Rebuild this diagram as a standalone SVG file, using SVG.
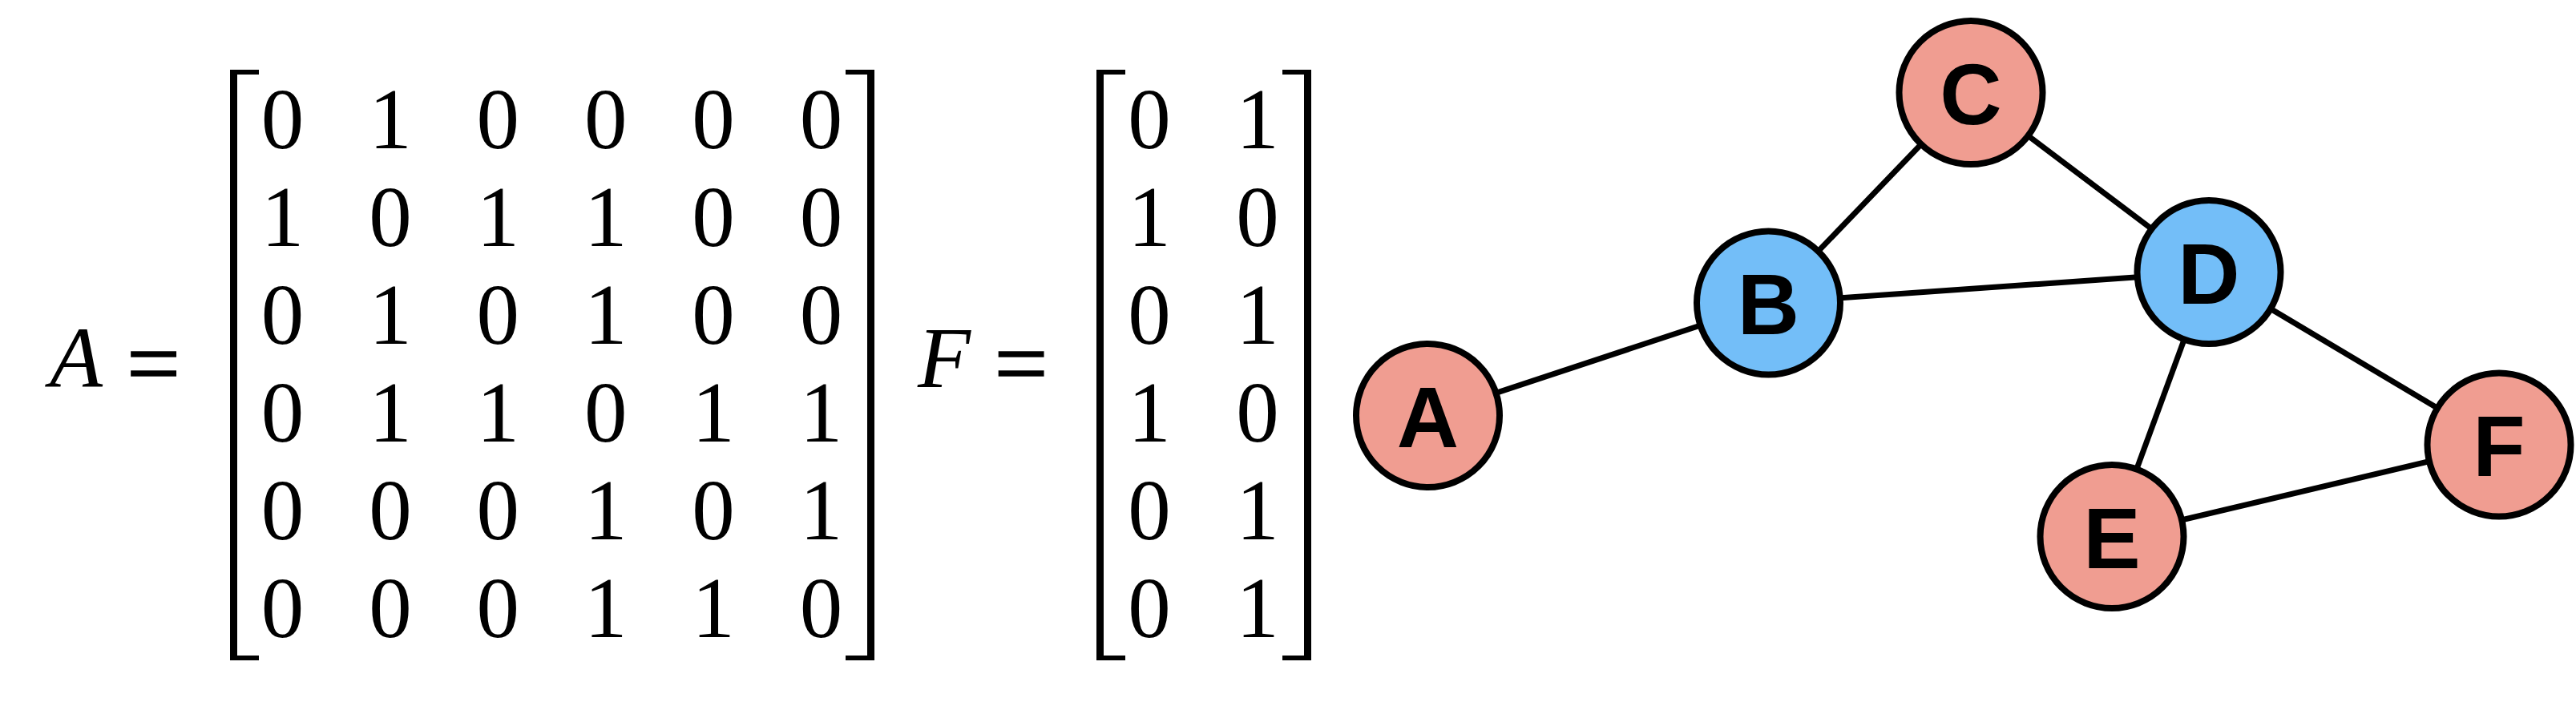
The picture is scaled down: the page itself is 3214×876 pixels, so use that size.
<svg xmlns="http://www.w3.org/2000/svg" width="3214" height="876" viewBox="0 0 3214 876">
<style>
.math{font-family:"Liberation Serif","Times New Roman",serif;fill:#000}
.num{font-size:107px;text-anchor:middle}
.var{font-size:108px;font-style:italic;text-anchor:middle}
.eq{font-size:119px;text-anchor:middle;stroke:#000;stroke-width:1.5}
.edge{stroke:#000;stroke-width:7;fill:none}
.node{stroke:#000;stroke-width:8}
.red{fill:#F09D91}
.blue{fill:#73BEF8}
.lbl{font-family:"Liberation Sans",Arial,sans-serif;font-weight:bold;font-size:107px;text-anchor:middle;fill:#000}
</style>
<defs>
<path id="lb" d="M0,0 H36 V6 H9 V731 H36 V737 H0 Z" fill="#000"/>
<path id="rb" d="M0,0 H-36 V6 H-9 V731 H-36 V737 H0 Z" fill="#000"/>
</defs>
<rect width="3214" height="876" fill="#fff"/>
<g id="matrixA" class="math">
<text class="var" x="95" y="483">A</text>
<text class="eq" x="191.5" y="494">=</text>
<use href="#lb" x="287" y="87"/>
<use href="#rb" x="1091" y="87"/>
<text class="num" x="352.5 486.9 621.3 755.7 890.1 1024.5" y="184.5">010000</text>
<text class="num" x="352.5 486.9 621.3 755.7 890.1 1024.5" y="306.5">101100</text>
<text class="num" x="352.5 486.9 621.3 755.7 890.1 1024.5" y="428.5">010100</text>
<text class="num" x="352.5 486.9 621.3 755.7 890.1 1024.5" y="550.5">011011</text>
<text class="num" x="352.5 486.9 621.3 755.7 890.1 1024.5" y="672.5">000101</text>
<text class="num" x="352.5 486.9 621.3 755.7 890.1 1024.5" y="794.5">000110</text>
</g>
<g id="matrixF" class="math">
<text class="var" x="1178" y="483">F</text>
<text class="eq" x="1274" y="494">=</text>
<use href="#lb" x="1368" y="87"/>
<use href="#rb" x="1636" y="87"/>
<text class="num" x="1434 1569" y="184.5">01</text>
<text class="num" x="1434 1569" y="306.5">10</text>
<text class="num" x="1434 1569" y="428.5">01</text>
<text class="num" x="1434 1569" y="550.5">10</text>
<text class="num" x="1434 1569" y="672.5">01</text>
<text class="num" x="1434 1569" y="794.5">01</text>
</g>
<g id="edges">
<line class="edge" x1="1781.5" y1="518.5" x2="2206.5" y2="378"/>
<line class="edge" x1="2206.5" y1="378" x2="2459" y2="115.5"/>
<line class="edge" x1="2459" y1="115.5" x2="2756" y2="339.5"/>
<line class="edge" x1="2206.5" y1="378" x2="2756" y2="339.5"/>
<line class="edge" x1="2756" y1="339.5" x2="2635" y2="669.5"/>
<line class="edge" x1="2756" y1="339.5" x2="3118" y2="555"/>
<line class="edge" x1="2635" y1="669.5" x2="3118" y2="555"/>
</g>
<g id="node-A"><circle class="node red" cx="1781.5" cy="518.5" r="89.5"/><text class="lbl" x="1781.5" y="557.5">A</text></g>
<g id="node-B"><circle class="node blue" cx="2206.5" cy="378" r="89.5"/><text class="lbl" x="2206.5" y="417">B</text></g>
<g id="node-C"><circle class="node red" cx="2459" cy="115.5" r="89.5"/><text class="lbl" x="2459" y="154.5">C</text></g>
<g id="node-D"><circle class="node blue" cx="2756" cy="339.5" r="89.5"/><text class="lbl" x="2756" y="378.5">D</text></g>
<g id="node-E"><circle class="node red" cx="2635" cy="669.5" r="89.5"/><text class="lbl" x="2635" y="708.5">E</text></g>
<g id="node-F"><circle class="node red" cx="3118" cy="555" r="89.5"/><text class="lbl" x="3118" y="594">F</text></g>
</svg>
